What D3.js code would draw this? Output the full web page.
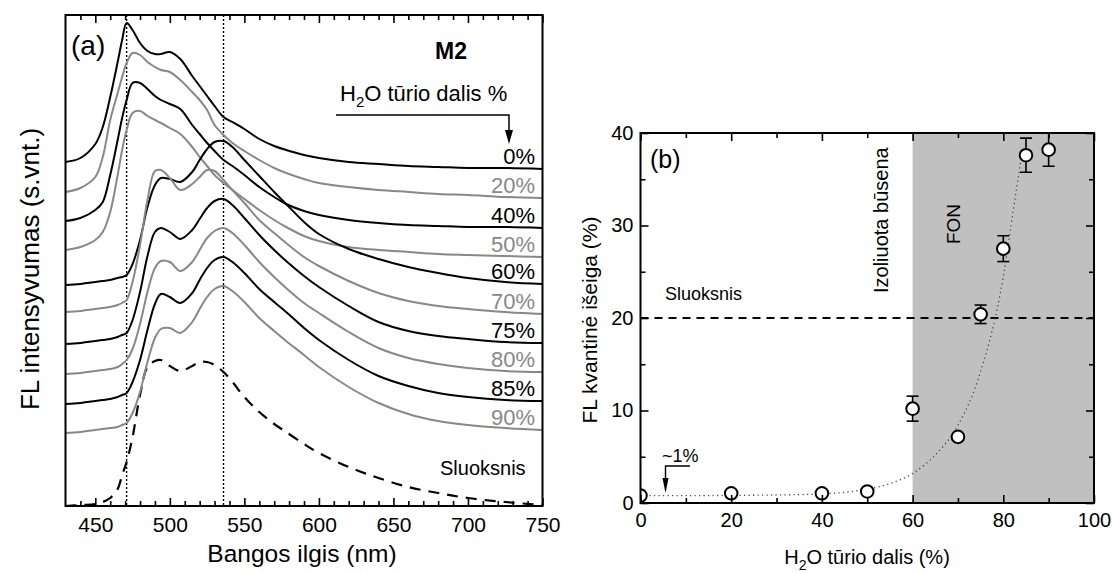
<!DOCTYPE html>
<html><head><meta charset="utf-8">
<script src="https://cdn.jsdelivr.net/npm/d3@7"></script>
<style>
body{margin:0;background:#fff;}
svg{font-family:"Liberation Sans",Arial,Helvetica,sans-serif;}
</style></head><body>
<svg id="c" width="1112" height="573"></svg>
<script>
// ---------- DATA: panel (a) ----------
const wavelengths = [430, 440, 450, 455, 460, 465, 468, 471, 475, 480, 485, 490, 494, 500, 507, 515, 520, 525, 530, 536, 542, 550, 560, 570, 578, 590, 600, 620, 640, 660, 680, 700, 725, 750];
const spec00 = [344, 348, 362, 379, 409, 444, 466, 483, 476, 463, 455, 452, 452, 454, 447, 430, 420, 410, 400, 389, 384, 377, 367, 360, 356, 351, 348, 344, 342, 340, 339, 338, 338, 337];
const spec20 = [314, 318, 329, 349, 386, 413, 429, 443, 453, 451, 444, 439, 436, 434, 426, 414, 406, 396, 381, 371, 363, 355, 346, 338, 333, 327, 323, 319, 316, 314, 312, 311, 309, 308];
const spec40 = [285, 288, 296, 304, 331, 366, 388, 406, 423, 423, 417, 410, 406, 402, 397, 381, 372, 363, 355, 346, 340, 331, 319, 309, 302, 295, 291, 286, 283, 281, 280, 279, 279, 278];
const spec50 = [256, 259, 266, 274, 294, 331, 356, 376, 393, 395, 390, 386, 383, 378, 372, 359, 349, 340, 331, 323, 316, 307, 296, 286, 279, 270, 265, 259, 256, 254, 252, 251, 250, 249];
const spec60 = [221, 222, 224, 225, 226, 228, 229, 231, 242, 266, 299, 321, 328, 327, 324, 334, 346, 357, 364, 365, 359, 346, 330, 314, 302, 284, 272, 257, 247, 239, 233, 228, 224, 222];
const spec70 = [194, 195, 197, 198, 199, 201, 203, 206, 224, 261, 306, 335, 336, 328, 316, 322, 329, 336, 335, 326, 316, 303, 286, 273, 263, 249, 240, 225, 213, 205, 200, 197, 194, 192];
const spec75 = [162, 163, 165, 166, 167, 169, 171, 173, 186, 214, 250, 274, 278, 274, 267, 276, 287, 298, 305, 307, 301, 288, 271, 256, 245, 230, 219, 200, 184, 175, 170, 167, 164, 163];
const spec80 = [132, 133, 135, 136, 137, 139, 142, 146, 157, 182, 214, 238, 245, 244, 235, 244, 256, 268, 275, 278, 273, 261, 244, 229, 218, 203, 193, 174, 158, 148, 142, 138, 135, 134];
const spec85 = [102, 103, 105, 106, 107, 109, 111, 113, 124, 146, 176, 202, 212, 209, 203, 213, 226, 238, 246, 249, 244, 233, 217, 204, 194, 178, 166, 146, 130, 120, 113, 109, 106, 105];
const spec90 = [73, 74, 76, 77, 78, 79, 81, 83, 93, 114, 144, 168, 177, 178, 173, 184, 197, 209, 217, 220, 215, 204, 188, 175, 165, 151, 139, 119, 103, 92, 85, 81, 78, 76];
const specFilm = [0, 1, 2, 4, 8, 17, 31, 44, 69, 111, 139, 145, 146, 140, 135, 140, 144, 144, 141, 134, 124, 109, 94, 82, 74, 62, 53, 39, 28, 19, 13, 8, 4, 1];
const waterLabels = ["0%", "20%", "40%", "50%", "60%", "70%", "75%", "80%", "85%", "90%"];
const spectra = [spec00, spec20, spec40, spec50, spec60, spec70, spec75, spec80, spec85, spec90];
const markerWavelengths = [471, 536];
const xTicksA = [450, 500, 550, 600, 650, 700, 750];
const xMinorA = [440, 460, 470, 480, 490, 510, 520, 530, 540, 560, 570, 580, 590, 610, 620, 630, 640, 660, 670, 680, 690, 710, 720, 730, 740];

// ---------- DATA: panel (b) ----------
const waterPct = [0, 20, 40, 50, 60, 70, 75, 80, 85, 90];
const quantumYield = [0.8, 1.05, 1.05, 1.25, 10.2, 7.15, 20.4, 27.5, 37.6, 38.2];
const yieldErr = [0.2, 0.2, 0.2, 0.2, 1.35, 0.3, 1.0, 1.4, 1.85, 1.8];
const fitX = [0, 10, 20, 30, 40, 45, 50, 55, 60, 65, 70, 75, 80, 82, 84];
const fitY = [0.8, 0.8, 0.82, 0.87, 0.98, 1.15, 1.5, 2.1, 3.2, 5.2, 8.4, 14.2, 24.5, 31.0, 37.5];
const filmYield = 20;
const fonRange = [60, 100];
const xTicksB = [0, 20, 40, 60, 80, 100];
const xMinorB = [10, 30, 50, 70, 90];
const yTicksB = [0, 10, 20, 30, 40];
const yMinorB = [5, 15, 25, 35];

// ---------- STYLE ----------
const seriesColors = ["#000", "#888", "#000", "#888", "#000", "#888", "#000", "#888", "#000", "#888"];

const svg = d3.select("#c");

// ================= PANEL (a) =================
const xA = d3.scaleLinear().domain([430, 750]).range([65.5, 542.5]);
const yA = d3.scaleLinear().domain([0, 491]).range([506, 15]);
const gA = svg.append("g");

function styleAxis(g, fs) {
  g.select(".domain").remove();
  g.selectAll(".tick line").attr("stroke", "#000").attr("stroke-width", 1.6);
  g.selectAll(".tick text").attr("fill", "#000").attr("font-size", fs).attr("font-family", "Liberation Sans, Arial, sans-serif");
}

gA.selectAll(".mk").data(markerWavelengths).enter().append("line")
  .attr("x1", d => xA(d)).attr("x2", d => xA(d))
  .attr("y1", yA.range()[1]).attr("y2", yA.range()[0])
  .attr("stroke", "#000").attr("stroke-width", 1.4).attr("stroke-dasharray", "2,2");

const lineA = d3.line().x((d, i) => xA(wavelengths[i])).y(d => yA(d)).curve(d3.curveCatmullRom.alpha(0.5));

gA.append("path").datum(specFilm).attr("d", lineA)
  .attr("fill", "none").attr("stroke", "#000").attr("stroke-width", 2.2).attr("stroke-dasharray", "11,8");

spectra.forEach((s, i) => {
  gA.append("path").datum(s).attr("d", lineA)
    .attr("fill", "none").attr("stroke", seriesColors[i]).attr("stroke-width", 2);
  gA.append("text").attr("x", 535).attr("y", yA(s[s.length - 1]) - 5)
    .attr("text-anchor", "end").attr("font-size", 22).attr("fill", seriesColors[i]).text(waterLabels[i]);
});

const bA = gA.append("g").attr("transform", `translate(0,${yA(0)})`);
bA.append("g").call(d3.axisBottom(xA).tickValues(xMinorA).tickSize(-5).tickFormat("")).call(g => styleAxis(g, 21));
bA.append("g").call(d3.axisBottom(xA).tickValues(xTicksA).tickSize(-8).tickPadding(11).tickFormat(d3.format("d"))).call(g => styleAxis(g, 21));
const tA = gA.append("g").attr("transform", `translate(0,${yA(491)})`);
tA.append("g").call(d3.axisTop(xA).tickValues(xMinorA).tickSize(-5).tickFormat("")).call(g => styleAxis(g, 21));
tA.append("g").call(d3.axisTop(xA).tickValues(xTicksA).tickSize(-8).tickFormat("")).call(g => styleAxis(g, 21));
gA.append("rect").attr("x", 65.5).attr("y", 15).attr("width", 477).attr("height", 491)
  .attr("fill", "none").attr("stroke", "#000").attr("stroke-width", 2);

gA.append("text").attr("x", 71).attr("y", 55).attr("font-size", 28).text("(a)");
gA.append("text").attr("x", 435).attr("y", 59).attr("font-size", 23).attr("font-weight", "bold").text("M2");
const h2o = gA.append("text").attr("x", 340).attr("y", 101).attr("font-size", 22);
h2o.append("tspan").text("H");
h2o.append("tspan").attr("font-size", 15).attr("dy", 6).text("2");
h2o.append("tspan").attr("dy", -6).text("O tūrio dalis %");
gA.append("path").attr("d", "M336,115H509V132").attr("fill", "none").attr("stroke", "#000").attr("stroke-width", 1.5);
gA.append("path").attr("d", "M505,130L513,130L509,144Z").attr("fill", "#000");
gA.append("text").attr("x", 440).attr("y", 475).attr("font-size", 20).text("Sluoksnis");
gA.append("text").attr("transform", "translate(39,269) rotate(-90)").attr("text-anchor", "middle")
  .attr("font-size", 26).text("FL intensyvumas (s.vnt.)");
gA.append("text").attr("x", 302).attr("y", 562).attr("text-anchor", "middle").attr("font-size", 24.5).text("Bangos ilgis (nm)");

// ================= PANEL (b) =================
const xB = d3.scaleLinear().domain([0, 100]).range([640.5, 1094]);
const yB = d3.scaleLinear().domain([0, 40]).range([503, 133]);
const gB = svg.append("g");

svg.append("defs").append("clipPath").attr("id", "clipB").append("rect")
  .attr("x", 640.5).attr("y", 133).attr("width", 453.5).attr("height", 370);

gB.append("rect").attr("x", xB(fonRange[0])).attr("y", yB(40))
  .attr("width", xB(fonRange[1]) - xB(fonRange[0])).attr("height", yB(0) - yB(40)).attr("fill", "#c0c0c0");

gB.append("line").attr("x1", xB(0)).attr("x2", xB(100)).attr("y1", yB(filmYield)).attr("y2", yB(filmYield))
  .attr("stroke", "#000").attr("stroke-width", 2).attr("stroke-dasharray", "8,6");

const fitLine = d3.line().x((d, i) => xB(fitX[i])).y(d => yB(d)).curve(d3.curveMonotoneX);
gB.append("path").datum(fitY).attr("d", fitLine).attr("fill", "none")
  .attr("stroke", "#444").attr("stroke-width", 1.3).attr("stroke-dasharray", "1.2,3.3");

const pts = gB.append("g").attr("clip-path", "url(#clipB)");
waterPct.forEach((w, i) => {
  const cx = xB(w), v = quantumYield[i], e = yieldErr[i];
  pts.append("line").attr("x1", cx).attr("x2", cx).attr("y1", yB(v - e)).attr("y2", yB(v + e)).attr("stroke", "#000").attr("stroke-width", 1.6);
  [v - e, v + e].forEach(t => pts.append("line").attr("x1", cx - 6).attr("x2", cx + 6).attr("y1", yB(t)).attr("y2", yB(t)).attr("stroke", "#000").attr("stroke-width", 1.6));
  pts.append("circle").attr("cx", cx).attr("cy", yB(v)).attr("r", 6.3).attr("fill", "#fff").attr("stroke", "#000").attr("stroke-width", 2);
});

const bB = gB.append("g").attr("transform", `translate(0,${yB(0)})`);
bB.append("g").call(d3.axisBottom(xB).tickValues(xMinorB).tickSize(-5).tickFormat("")).call(g => styleAxis(g, 19));
bB.append("g").call(d3.axisBottom(xB).tickValues(xTicksB).tickSize(-8).tickPadding(10).tickFormat(d3.format("d"))).call(g => styleAxis(g, 20));
const tB = gB.append("g").attr("transform", `translate(0,${yB(40)})`);
tB.append("g").call(d3.axisTop(xB).tickValues(xMinorB).tickSize(-5).tickFormat("")).call(g => styleAxis(g, 19));
tB.append("g").call(d3.axisTop(xB).tickValues(xTicksB).tickSize(-8).tickFormat("")).call(g => styleAxis(g, 19));
const lB = gB.append("g").attr("transform", `translate(${xB(0)},0)`);
lB.append("g").call(d3.axisLeft(yB).tickValues(yMinorB).tickSize(-5).tickFormat("")).call(g => styleAxis(g, 19));
lB.append("g").call(d3.axisLeft(yB).tickValues(yTicksB).tickSize(-8).tickPadding(7).tickFormat(d3.format("d"))).call(g => styleAxis(g, 20));
const rB = gB.append("g").attr("transform", `translate(${xB(100)},0)`);
rB.append("g").call(d3.axisRight(yB).tickValues(yMinorB).tickSize(-5).tickFormat("")).call(g => styleAxis(g, 19));
rB.append("g").call(d3.axisRight(yB).tickValues(yTicksB).tickSize(-8).tickFormat("")).call(g => styleAxis(g, 19));
gB.append("rect").attr("x", 640.5).attr("y", 133).attr("width", 453.5).attr("height", 370)
  .attr("fill", "none").attr("stroke", "#000").attr("stroke-width", 2);

gB.append("text").attr("x", 650).attr("y", 168).attr("font-size", 25).text("(b)");
gB.append("text").attr("x", 665).attr("y", 300).attr("font-size", 18).text("Sluoksnis");
gB.append("text").attr("transform", "translate(888,293) rotate(-90)").attr("font-size", 20).text("Izoliuota būsena");
gB.append("text").attr("transform", "translate(960,224) rotate(-90)").attr("text-anchor", "middle").attr("font-size", 19).text("FON");
gB.append("text").attr("x", 662).attr("y", 462).attr("font-size", 18).text("~1%");
gB.append("path").attr("d", "M690,466H665.5V480").attr("fill", "none").attr("stroke", "#000").attr("stroke-width", 1.4);
gB.append("path").attr("d", "M662.5,478L668.5,478L665.5,493Z").attr("fill", "#000");
gB.append("text").attr("transform", "translate(597,320) rotate(-90)").attr("text-anchor", "middle")
  .attr("font-size", 21).text("FL kvantinė išeiga (%)");
const xl = gB.append("text").attr("x", 867).attr("y", 564).attr("text-anchor", "middle").attr("font-size", 20);
xl.append("tspan").text("H");
xl.append("tspan").attr("font-size", 14).attr("dy", 6).text("2");
xl.append("tspan").attr("dy", -6).text("O tūrio dalis (%)");
</script>
</body></html>
